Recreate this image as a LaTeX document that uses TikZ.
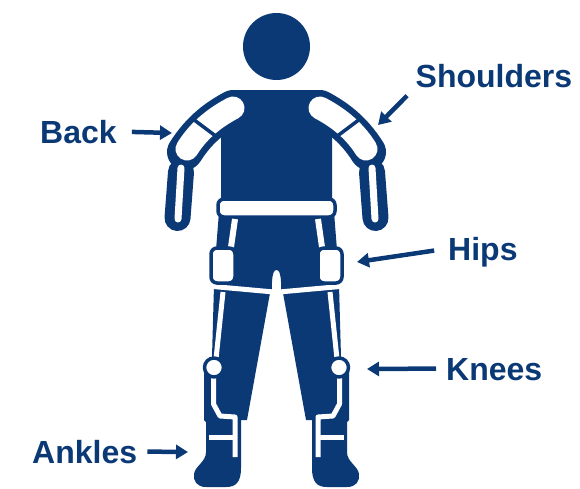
\documentclass[tikz,border=0pt]{standalone}
\usepackage{fontspec}
\setmainfont{Liberation Sans}
\usepackage{tikz}
\usetikzlibrary{arrows.meta}
\definecolor{suitblue}{RGB}{11,57,118}
\tikzset{suit/.style={fill=suitblue}}
\tikzset{padbox/.style={fill=white, draw=suitblue, line width=3.5pt}}
\tikzset{strut/.style={draw=white, line width=5pt}}
\tikzset{partlabel/.style={font=\bfseries\fontsize{32}{32}\selectfont, text=suitblue, inner sep=0pt, text height=23pt, text depth=0pt}}
\tikzset{pointer/.style={draw=suitblue, line width=4.5pt, -{Triangle[length=12pt,width=14pt]}}}
\tikzset{leftside/.style={}, rightside/.style={xshift=553pt, xscale=-1}}

\begin{document}
\begin{tikzpicture}[x=1pt, y=-1pt, line join=round]
	\useasboundingbox (0,0) rectangle (580,488);
	% head, trunk and pelvis
	\fill[suit] (276.5,46.5) circle [radius=33.5pt];
	\fill[suit] (232,90) -- (321,90) -- (332,122) -- (332,214) -- (221,214) -- (221,122) -- cycle;
	\fill[suit] (219,212) -- (334,212) -- (337,250) -- (339,292) -- (281.3,292) -- (281,282)
		.. controls (280.5,273) and (279,270) .. (276.5,270)
		.. controls (274,270) and (272.5,273) .. (272,282) -- (271.7,292) -- (214,292) -- (216,250) -- cycle;
	% arms and legs
	\foreach \side in {leftside,rightside}{
		\begin{scope}[\side]
			\draw[suitblue, line width=36pt, line cap=round] (233,108) .. controls (218,116) and (200,128) .. (185,152);
			\draw[suitblue, line width=26pt, line cap=round] (181,172) -- (177.5,218);
			\fill[suit] (272,282) -- (247,420) -- (241,420) -- (241,468)
				.. controls (241,482) and (236,487) .. (226,487) -- (206,487)
				.. controls (197,487) and (193,481) .. (194,474)
				.. controls (195,466) and (206,462) .. (206,452)
				-- (206,422) -- (204,420) -- (204,372) -- (212,357) -- (214,285) -- cycle;
		\end{scope}
	}
	% belt
	\draw[padbox, rounded corners=6pt] (218,199) rectangle (335,217);
	% pads, struts and joints
	\foreach \side in {leftside,rightside}{
		\begin{scope}[\side]
			\draw[white, line width=23pt, line cap=round] (233,108) .. controls (218,116) and (200,128) .. (187,149);
			\draw[suitblue, line width=3.5pt] (194.6,120.2) -- (215.4,135.8);
			\draw[white, line width=7pt, line cap=round] (181,168) -- (178,219);
			\draw[strut, line width=6pt] (235,219) -- (231,247);
			\draw[strut] (213,286.5) -- (274,292);
			\draw[padbox, rounded corners=6pt] (211,248) rectangle (235,283);
			\draw[strut] (223,292) -- (216,359);
			\draw[strut] (213.5,376) -- (213.5,404) -- (220,416) -- (235,417) -- (235,457);
			\draw[strut] (209,437) -- (235,437);
			\draw[padbox] (214,367.5) circle [radius=9.5pt];
		\end{scope}
	}
	% labels
	\node[partlabel, anchor=west] (shoulders) at (415.5,75.5) {Shoulders};
	\node[partlabel, anchor=west] (back) at (40,131.5) {Back};
	\node[partlabel, anchor=west] (hips) at (448,248.5) {Hips};
	\node[partlabel, anchor=west] (knees) at (446,368.5) {Knees};
	\node[partlabel, anchor=west] (ankles) at (32,451.5) {Ankles};
	\coordinate (shouldertip) at (378,125);
	\coordinate (backtip) at (172,133);
	\coordinate (hiptip) at (357,262);
	\coordinate (kneetip) at (367,369);
	\coordinate (ankletip) at (188,452);
	\draw[pointer, shorten <=12pt] (shoulders.south west) -- (shouldertip);
	\draw[pointer, shorten <=15pt] (back.east) -- (backtip);
	\draw[pointer, shorten <=14pt] (hips.west) -- (hiptip);
	\draw[pointer, shorten <=10pt] (knees.west) -- (kneetip);
	\draw[pointer, shorten <=10pt] (ankles.east) -- (ankletip);
\end{tikzpicture}
\end{document}
